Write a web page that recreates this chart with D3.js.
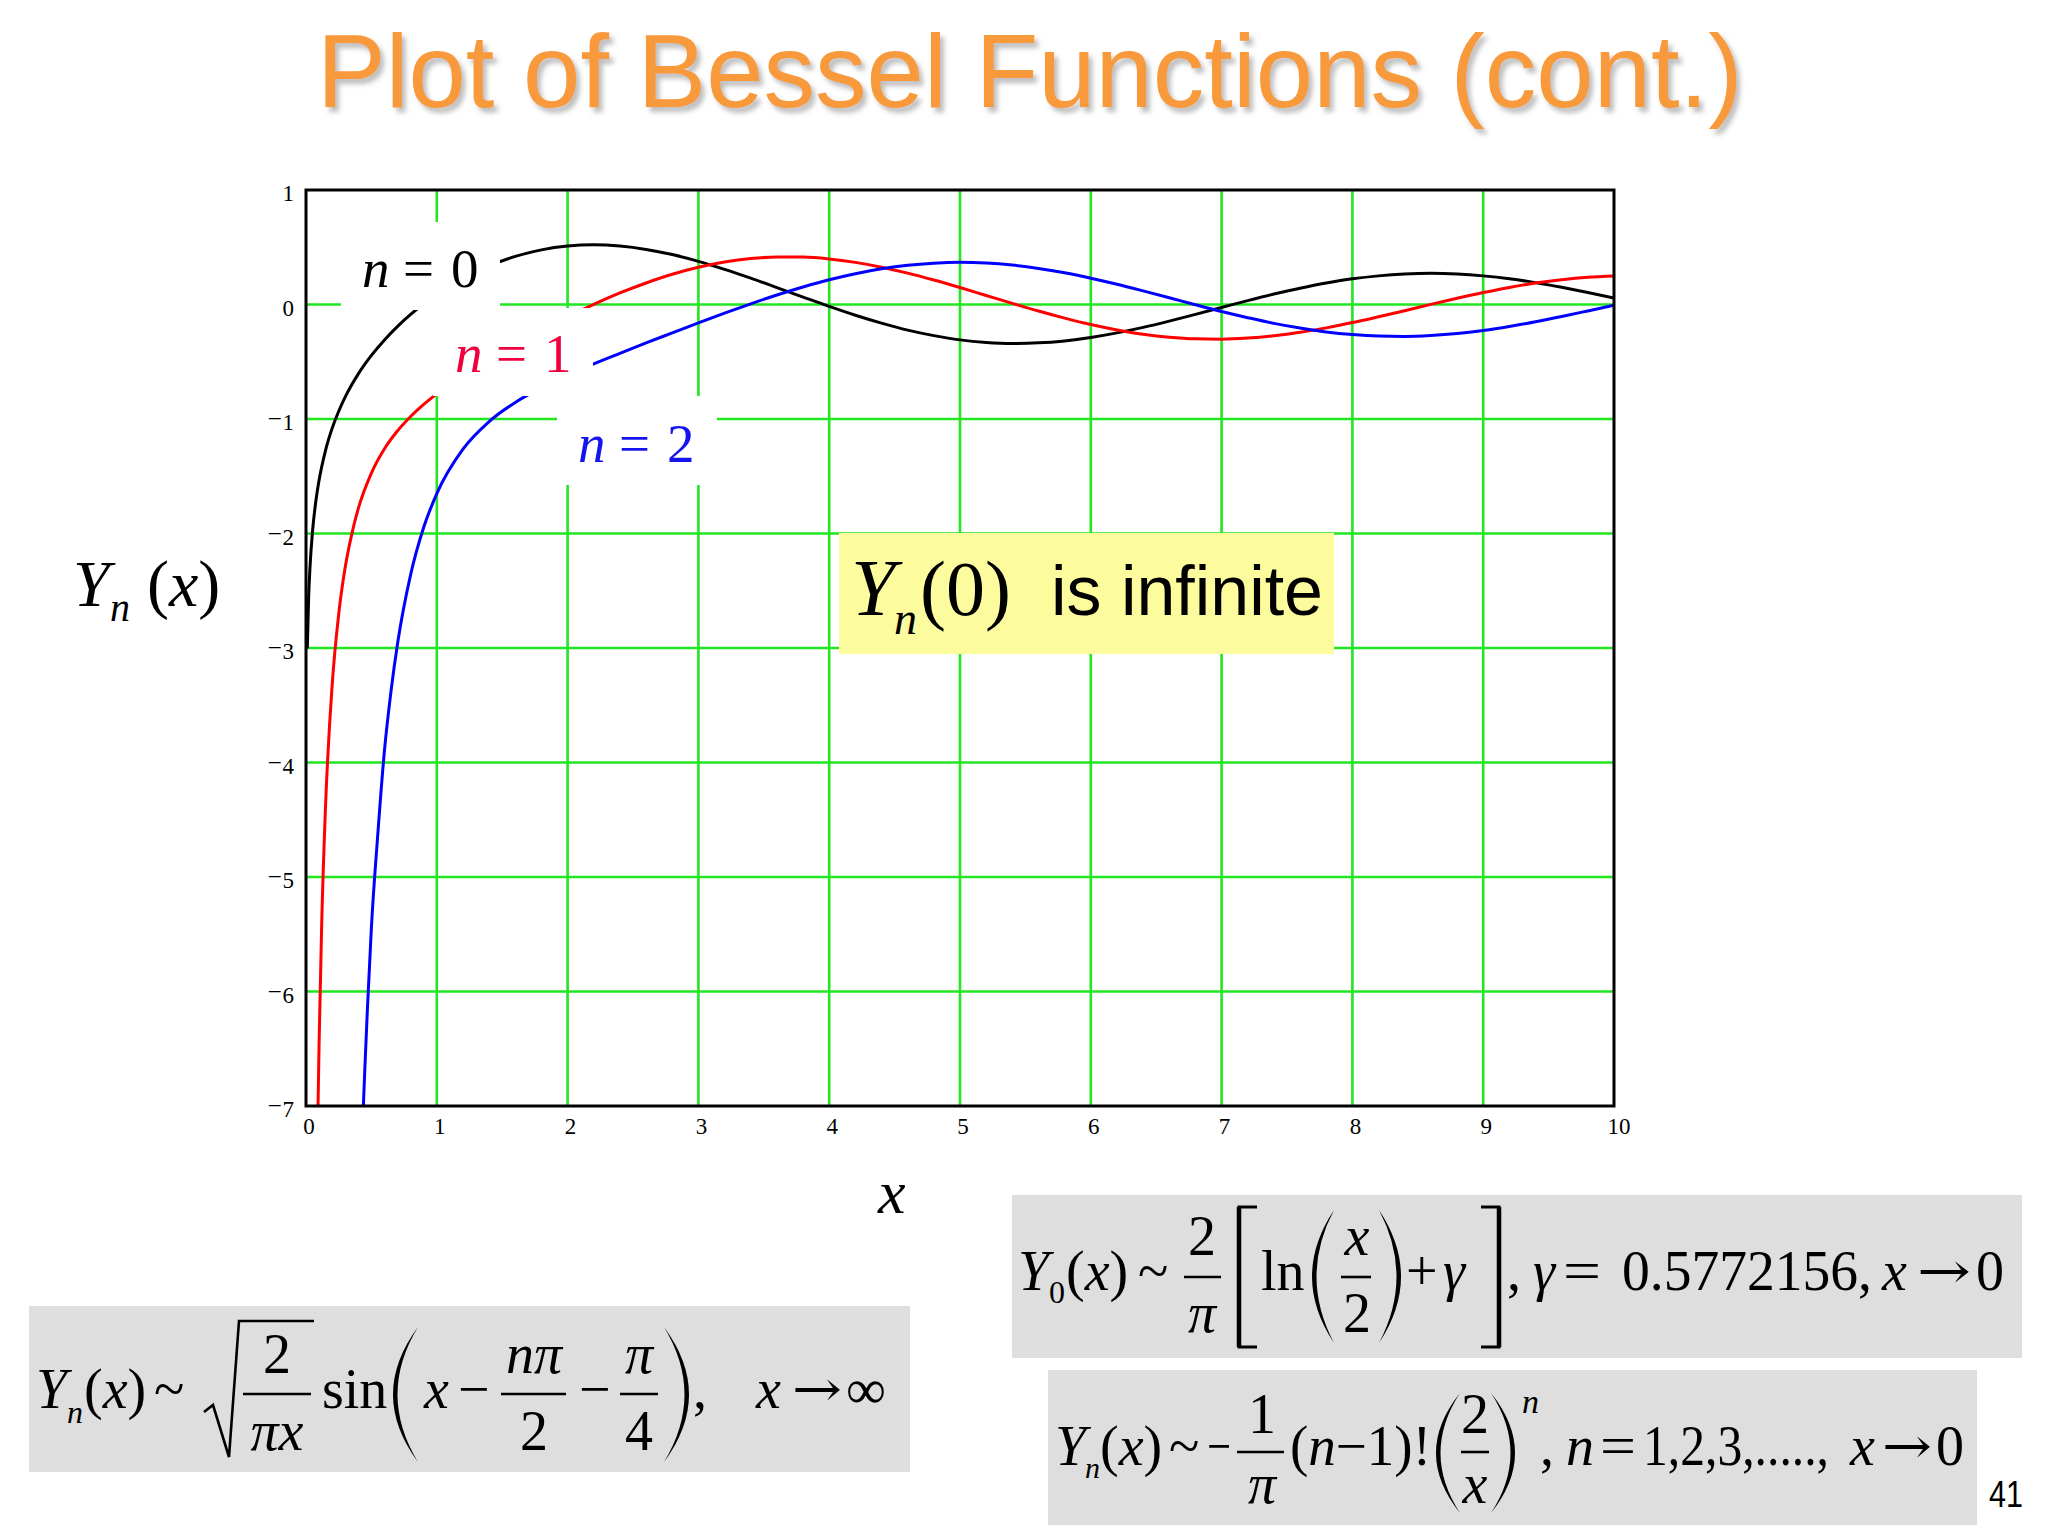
<!DOCTYPE html>
<html>
<head>
<meta charset="utf-8">
<script src="https://cdn.jsdelivr.net/npm/d3@7"></script>
<style>
  html, body { margin: 0; padding: 0; background: #fff; }
  svg { display: block; }
</style>
</head>
<body>
<script>
// Bessel functions of the second kind Y0, Y1, Y2 on 0..10.
var y0X = [0.01, 0.02, 0.03, 0.05, 0.075, 0.1, 0.15, 0.2, 0.25, 0.3, 0.4, 0.5, 0.6, 0.7, 0.8, 0.9,
  1.0, 1.2, 1.4, 1.6, 1.8, 2.0, 2.2, 2.4, 2.6, 2.8, 3.0, 3.2, 3.4, 3.6, 3.8, 4.0, 4.2, 4.4, 4.6, 4.8,
  5.0, 5.2, 5.4, 5.6, 5.8, 6.0, 6.2, 6.4, 6.6, 6.8, 7.0, 7.2, 7.4, 7.6, 7.8, 8.0, 8.2, 8.4, 8.6, 8.8,
  9.0, 9.2, 9.4, 9.6, 9.8, 10.0]
var y0Vals = [-3.005, -2.564, -2.306, -1.979, -1.720, -1.534, -1.271, -1.081, -0.932, -0.807, -0.606,
  -0.445, -0.309, -0.191, -0.087, 0.006, 0.088, 0.228, 0.338, 0.420, 0.477, 0.510, 0.521, 0.510, 0.481,
  0.436, 0.377, 0.307, 0.230, 0.148, 0.065, -0.017, -0.094, -0.163, -0.224, -0.272, -0.309, -0.331,
  -0.340, -0.335, -0.318, -0.288, -0.248, -0.200, -0.145, -0.086, -0.026, 0.034, 0.091, 0.142, 0.187,
  0.224, 0.250, 0.266, 0.272, 0.266, 0.250, 0.225, 0.191, 0.150, 0.105, 0.056]

var y1X = [0.09, 0.1, 0.12, 0.15, 0.2, 0.25, 0.3, 0.35, 0.4, 0.5, 0.6, 0.7, 0.8, 0.9,
  1.0, 1.2, 1.4, 1.6, 1.8, 2.0, 2.2, 2.4, 2.6, 2.8, 3.0, 3.2, 3.4, 3.6, 3.8, 4.0, 4.2, 4.4, 4.6, 4.8,
  5.0, 5.2, 5.4, 5.6, 5.8, 6.0, 6.2, 6.4, 6.6, 6.8, 7.0, 7.2, 7.4, 7.6, 7.8, 8.0, 8.2, 8.4, 8.6, 8.8,
  9.0, 9.2, 9.4, 9.6, 9.8, 10.0]
var y1Vals = [-7.14, -6.459, -5.41, -4.364, -3.324, -2.705, -2.293, -2.005, -1.781, -1.472, -1.260,
  -1.103, -0.978, -0.873, -0.781, -0.621, -0.479, -0.348, -0.224, -0.107, 0.002, 0.101, 0.188, 0.264,
  0.325, 0.371, 0.401, 0.415, 0.414, 0.398, 0.368, 0.326, 0.274, 0.214, 0.148, 0.079, 0.010, -0.057,
  -0.119, -0.175, -0.222, -0.260, -0.286, -0.300, -0.303, -0.293, -0.273, -0.243, -0.204, -0.158,
  -0.107, -0.054, 0.001, 0.054, 0.104, 0.149, 0.187, 0.217, 0.238, 0.249]

var y2X = [0.43, 0.44, 0.45, 0.47, 0.5, 0.55, 0.6, 0.65, 0.7, 0.8, 0.9,
  1.0, 1.2, 1.4, 1.6, 1.8, 2.0, 2.2, 2.4, 2.6, 2.8, 3.0, 3.2, 3.4, 3.6, 3.8, 4.0, 4.2, 4.4, 4.6, 4.8,
  5.0, 5.2, 5.4, 5.6, 5.8, 6.0, 6.2, 6.4, 6.6, 6.8, 7.0, 7.2, 7.4, 7.6, 7.8, 8.0, 8.2, 8.4, 8.6, 8.8,
  9.0, 9.2, 9.4, 9.6, 9.8, 10.0]
var y2Vals = [-7.27, -6.96, -6.67, -6.14, -5.442, -4.61, -3.893, -3.377, -2.961, -2.359, -1.946,
  -1.651, -1.263, -1.022, -0.855, -0.726, -0.617, -0.519, -0.427, -0.336, -0.248, -0.160, -0.075,
  0.006, 0.083, 0.153, 0.216, 0.269, 0.312, 0.343, 0.361, 0.368, 0.362, 0.344, 0.315, 0.277, 0.230,
  0.177, 0.119, 0.059, -0.002, -0.061, -0.115, -0.165, -0.206, -0.240, -0.263, -0.276, -0.279,
  -0.271, -0.254, -0.227, -0.192, -0.151, -0.105, -0.056, -0.006]

var seriesNames = ['0', '1', '2']
var curveColors = ['#000000', '#ff0000', '#0000ff']
var labelColors = ['#000000', '#f0003c', '#1414ee']
var xTicks = [0, 1, 2, 3, 4, 5, 6, 7, 8, 9, 10]
var yTicks = [1, 0, -1, -2, -3, -4, -5, -6, -7]

var serif = '"Liberation Serif", "Times New Roman", serif'
var sans = '"Liberation Sans", Arial, sans-serif'
var arrowFont = '"DejaVu Serif", serif'

var svg = d3.select('body').append('svg').attr('width', 2048).attr('height', 1536)
svg.append('rect').attr('width', 2048).attr('height', 1536).attr('fill', '#fff')

var defs = svg.append('defs')
var shadow = defs.append('filter').attr('id', 'shadow')
  .attr('x', '-5%').attr('y', '-20%').attr('width', '110%').attr('height', '150%')
shadow.append('feDropShadow').attr('dx', 4).attr('dy', 5).attr('stdDeviation', 2.5)
  .attr('flood-color', '#888').attr('flood-opacity', 0.55)

function put(g, x, y, s, size, o){
  o = o || {}
  return g.append('text').attr('x', x).attr('y', y).text(s)
    .attr('font-family', o.fam || serif)
    .attr('font-size', size)
    .attr('font-style', o.it ? 'italic' : 'normal')
    .attr('text-anchor', o.anchor || 'start')
    .attr('fill', o.fill || '#000')
}
function fracBar(g, x1, x2, y){
  g.append('line').attr('x1', x1).attr('x2', x2).attr('y1', y).attr('y2', y)
    .attr('stroke', '#000').attr('stroke-width', 2.6)
}
// tall thin parenthesis as a crescent
function paren(g, xl, xr, top, bot, open){
  var mid = (top + bot) / 2, t = 4.5, d
  if (open){
    d = 'M' + xr + ',' + top + 'Q' + (2 * xl - xr) + ',' + mid + ' ' + xr + ',' + bot +
      'Q' + (2 * (xl + t) - xr) + ',' + mid + ' ' + xr + ',' + top + 'Z'
  } else {
    d = 'M' + xl + ',' + top + 'Q' + (2 * xr - xl) + ',' + mid + ' ' + xl + ',' + bot +
      'Q' + (2 * (xr - t) - xl) + ',' + mid + ' ' + xl + ',' + top + 'Z'
  }
  g.append('path').attr('d', d).attr('fill', '#000')
}
function bracket(g, xl, xr, top, bot, open){
  var xv = open ? xl : xr, xe = open ? xr : xl
  g.append('path').attr('d', 'M' + xe + ',' + top + 'L' + xv + ',' + top + 'L' + xv + ',' + bot + 'L' + xe + ',' + bot)
    .attr('fill', 'none').attr('stroke', '#000').attr('stroke-width', 3)
  g.append('line').attr('x1', xv).attr('x2', xv).attr('y1', top).attr('y2', bot)
    .attr('stroke', '#000').attr('stroke-width', 4.5)
}
function arrow(g, x, y, w){
  return put(g, x, y, '\u2192', 50, {fam: arrowFont}).attr('textLength', w).attr('lengthAdjust', 'spacingAndGlyphs')
}

// ---- title ----
put(svg, 317, 107, 'Plot of Bessel Functions (cont.)', 103, {fam: sans, fill: '#f8993a'})
  .attr('filter', 'url(#shadow)')

// ---- plot ----
var x = d3.scaleLinear().domain([0, 10]).range([306, 1614])
var y = d3.scaleLinear().domain([-7, 1]).range([1106, 190])

defs.append('clipPath').attr('id', 'plotClip').append('rect')
  .attr('x', x(0)).attr('y', y(1)).attr('width', x(10) - x(0)).attr('height', y(-7) - y(1))

var grid = svg.append('g')
grid.selectAll('line.v').data(xTicks.slice(1, -1)).join('line')
  .attr('x1', x).attr('x2', x).attr('y1', y(1)).attr('y2', y(-7))
  .attr('stroke', '#22e622').attr('stroke-width', 2.6)
grid.selectAll('line.h').data(yTicks.slice(1, -1)).join('line')
  .attr('y1', y).attr('y2', y).attr('x1', x(0)).attr('x2', x(10))
  .attr('stroke', '#22e622').attr('stroke-width', 2.6)

var series = [
  y0X.map(function(v, i){ return [v, y0Vals[i]] }),
  y1X.map(function(v, i){ return [v, y1Vals[i]] }),
  y2X.map(function(v, i){ return [v, y2Vals[i]] })
]
var line = d3.line().x(function(d){ return x(d[0]) }).y(function(d){ return y(d[1]) })
  .curve(d3.curveMonotoneX)
svg.append('g').attr('clip-path', 'url(#plotClip)')
  .selectAll('path').data(series).join('path')
  .attr('d', line).attr('fill', 'none')
  .attr('stroke', function(d, i){ return curveColors[i] })
  .attr('stroke-width', 3).attr('stroke-linejoin', 'round')

// white boxes behind the n labels (they cut the grid and the curves)
var boxes = [[341, 222, 500, 310], [433, 308, 593, 396], [557, 396, 717, 485]]
svg.append('g').selectAll('rect').data(boxes).join('rect')
  .attr('x', function(d){ return d[0] }).attr('y', function(d){ return d[1] })
  .attr('width', function(d){ return d[2] - d[0] }).attr('height', function(d){ return d[3] - d[1] })
  .attr('fill', '#fff')

var labelPos = [[362, 287], [455, 372], [578, 462]]
seriesNames.forEach(function(nm, i){
  var p = labelPos[i], c = labelColors[i]
  put(svg, p[0], p[1], 'n', 55, {it: true, fill: c})
  put(svg, p[0] + 41, p[1], '=', 55, {fill: c})
  put(svg, p[0] + 89, p[1], nm, 55, {fill: c})
})

// yellow note
svg.append('rect').attr('x', 839).attr('y', 533).attr('width', 495).attr('height', 121).attr('fill', '#fcfc9e')
put(svg, 851, 615, 'Y', 80, {it: true})
put(svg, 894, 634, 'n', 46, {it: true})
put(svg, 920, 615, '(0)', 78)
put(svg, 1051, 615, 'is infinite', 70, {fam: sans}).attr('textLength', 272).attr('lengthAdjust', 'spacingAndGlyphs')

// frame
svg.append('rect').attr('x', x(0)).attr('y', y(1)).attr('width', x(10) - x(0)).attr('height', y(-7) - y(1))
  .attr('fill', 'none').attr('stroke', '#000').attr('stroke-width', 3)

// tick labels
svg.append('g').selectAll('text').data(xTicks).join('text')
  .attr('x', function(d){ return x(d) + (d == 10 ? 5 : 3) }).attr('y', 1134)
  .attr('text-anchor', 'middle').attr('font-family', serif).attr('font-size', 23)
  .text(function(d){ return d })
var yl = svg.append('g').selectAll('text').data(yTicks).join('text')
  .attr('x', 294).attr('y', function(d){ return y(d) + 11 })
  .attr('text-anchor', 'end').attr('font-family', serif).attr('font-size', 23)
yl.each(function(d){
  var t = d3.select(this)
  if (d < 0){
    t.append('tspan').attr('dy', -6).text('\u2013')
    t.append('tspan').attr('dy', 6).attr('dx', 2).text(Math.abs(d))
  } else {
    t.text(d)
  }
})

// axis titles
put(svg, 73, 606, 'Y', 66, {it: true})
put(svg, 110, 621, 'n', 40, {it: true})
var yt = put(svg, 147, 606, '(', 66)
yt.append('tspan').attr('font-style', 'italic').text('x')
yt.append('tspan').text(')')
put(svg, 878, 1213, 'x', 62, {it: true})

// ---- formula boxes ----
var fb = svg.append('g')
fb.append('rect').attr('x', 29).attr('y', 1306).attr('width', 881).attr('height', 166).attr('fill', '#dedede')
fb.append('rect').attr('x', 1012).attr('y', 1195).attr('width', 1010).attr('height', 163).attr('fill', '#dedede')
fb.append('rect').attr('x', 1048).attr('y', 1370).attr('width', 929).attr('height', 155).attr('fill', '#dedede')

var F = 56
// Y_n(x) ~ sqrt(2/(pi x)) sin(x - n pi/2 - pi/4),  x -> inf
var b1 = 1408
put(fb, 36, b1, 'Y', F, {it: true})
put(fb, 67, b1 + 15, 'n', 32, {it: true})
var t1 = put(fb, 84, b1, '(', F)
t1.append('tspan').attr('font-style', 'italic').text('x')
t1.append('tspan').text(')')
put(fb, 154, b1, '~', F)
fb.append('path').attr('d', 'M204,1412L213,1405L229,1457L239,1321L314,1321')
  .attr('fill', 'none').attr('stroke', '#000').attr('stroke-width', 2.6)
put(fb, 277, 1373, '2', F, {anchor: 'middle'})
fracBar(fb, 243, 311, 1394)
put(fb, 277, 1450, '\u03c0x', F, {it: true, anchor: 'middle'})
put(fb, 322, b1, 'sin', F)
paren(fb, 393, 418, 1327, 1462, true)
put(fb, 424, b1, 'x', F, {it: true})
put(fb, 458, b1, '\u2212', F)
put(fb, 534, 1373, 'n\u03c0', F, {it: true, anchor: 'middle'})
fracBar(fb, 501, 566, 1394)
put(fb, 534, 1450, '2', F, {anchor: 'middle'})
put(fb, 579, b1, '\u2212', F)
put(fb, 639, 1373, '\u03c0', F, {it: true, anchor: 'middle'})
fracBar(fb, 620, 658, 1394)
put(fb, 639, 1450, '4', F, {anchor: 'middle'})
paren(fb, 664, 689, 1327, 1462, false)
put(fb, 693, b1, ',', F)
put(fb, 756, b1, 'x', F, {it: true})
arrow(fb, 792, b1 - 2, 50)
put(fb, 846, b1, '\u221e', F)

// Y_0(x) ~ 2/pi [ ln(x/2) + gamma ], gamma = 0.5772156, x -> 0
var b2 = 1290
put(fb, 1018, b2, 'Y', F, {it: true})
put(fb, 1049, b2 + 13, '0', 32)
var t2 = put(fb, 1066, b2, '(', F)
t2.append('tspan').attr('font-style', 'italic').text('x')
t2.append('tspan').text(')')
put(fb, 1138, b2, '~', F)
put(fb, 1202, 1255, '2', F, {anchor: 'middle'})
fracBar(fb, 1184, 1221, 1277)
put(fb, 1202, 1332, '\u03c0', F, {it: true, anchor: 'middle'})
bracket(fb, 1239, 1257, 1207, 1347, true)
put(fb, 1261, b2, 'ln', F)
paren(fb, 1312, 1334, 1210, 1343, true)
put(fb, 1357, 1255, 'x', F, {it: true, anchor: 'middle'})
fracBar(fb, 1341, 1371, 1277)
put(fb, 1357, 1332, '2', F, {anchor: 'middle'})
paren(fb, 1379, 1401, 1210, 1343, false)
put(fb, 1406, b2, '+', F)
put(fb, 1443, b2, '\u03b3', F, {it: true})
bracket(fb, 1481, 1499, 1207, 1347, false)
put(fb, 1507, b2, ',', F)
put(fb, 1533, b2, '\u03b3', F, {it: true})
put(fb, 1563, b2, '=', F).attr('textLength', 38).attr('lengthAdjust', 'spacingAndGlyphs')
put(fb, 1622, b2, '0.5772156,', F).attr('textLength', 250).attr('lengthAdjust', 'spacingAndGlyphs')
put(fb, 1882, b2, 'x', F, {it: true})
arrow(fb, 1917, b2 - 2, 54)
put(fb, 1976, b2, '0', F)

// Y_n(x) ~ -1/pi (n-1)! (2/x)^n , n = 1,2,3,....., x -> 0
var b3 = 1465
put(fb, 1055, b3, 'Y', F, {it: true})
put(fb, 1085, b3 + 13, 'n', 30, {it: true})
var t3 = put(fb, 1100, b3, '(', F)
t3.append('tspan').attr('font-style', 'italic').text('x')
t3.append('tspan').text(')')
put(fb, 1169, b3, '~', F)
put(fb, 1207, b3, '\u2212', F).attr('textLength', 24).attr('lengthAdjust', 'spacingAndGlyphs')
put(fb, 1262, 1433, '1', F, {anchor: 'middle'})
fracBar(fb, 1237, 1284, 1452)
put(fb, 1262, 1503, '\u03c0', F, {it: true, anchor: 'middle'})
var t4 = put(fb, 1290, b3, '(', F)
t4.append('tspan').attr('font-style', 'italic').text('n')
t4.append('tspan').text('\u22121)!')
t4.attr('textLength', 141).attr('lengthAdjust', 'spacingAndGlyphs')
paren(fb, 1436, 1460, 1393, 1513, true)
put(fb, 1475, 1433, '2', F, {anchor: 'middle'})
fracBar(fb, 1461, 1489, 1452)
put(fb, 1475, 1503, 'x', F, {it: true, anchor: 'middle'})
paren(fb, 1491, 1515, 1393, 1513, false)
put(fb, 1522, 1413, 'n', 34, {it: true})
put(fb, 1540, b3, ',', F)
put(fb, 1566, b3, 'n', F, {it: true})
put(fb, 1600, b3, '=', F).attr('textLength', 36).attr('lengthAdjust', 'spacingAndGlyphs')
put(fb, 1643, b3, '1,2,3,.....,', F).attr('textLength', 186).attr('lengthAdjust', 'spacingAndGlyphs')
put(fb, 1850, b3, 'x', F, {it: true})
arrow(fb, 1882, b3 - 2, 50)
put(fb, 1936, b3, '0', F)

// page number
put(svg, 1989, 1507, '41', 37, {fam: sans}).attr('textLength', 34).attr('lengthAdjust', 'spacingAndGlyphs')
</script>
</body>
</html>
